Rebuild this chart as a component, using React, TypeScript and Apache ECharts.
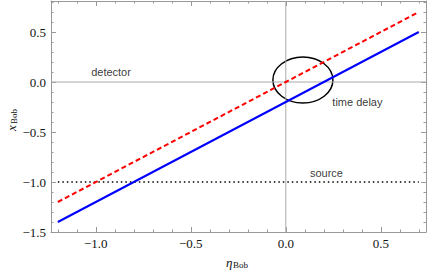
import React, { useEffect, useRef } from "react";
import * as echarts from "echarts";

const etaEnds = [-1.2, 0.7];
const blueValues = [-1.4, 0.5];
const redValues = [-1.2, 0.7];
const sourceValues = [-1.0, -1.0];
const ellipse = [0.09, 0.02, 0.158, 0.23]; // center eta, center x, semi-axis eta, semi-axis x
const xMajorTicks = [-1.0, -0.5, 0.0, 0.5];
const xMinorTicks = [-1.2, -1.1, -1.0, -0.9, -0.8, -0.7, -0.6, -0.5, -0.4, -0.3, -0.2, -0.1, 0.0, 0.1, 0.2, 0.3, 0.4, 0.5, 0.6, 0.7];
const yMajorTicks = [-1.5, -1.0, -0.5, 0.0, 0.5];
const yMinorTicks = [-1.5, -1.4, -1.3, -1.2, -1.1, -1.0, -0.9, -0.8, -0.7, -0.6, -0.5, -0.4, -0.3, -0.2, -0.1, 0.0, 0.1, 0.2, 0.3, 0.4, 0.5, 0.6, 0.7, 0.8];
const annotations = [
  { name: "detector", eta: -0.92, x: 0.1 },
  { name: "time delay", eta: 0.377, x: -0.2 },
  { name: "source", eta: 0.214, x: -0.907 },
];
const X_MIN = -1.236;
const X_MAX = 0.738;
const Y_MIN = -1.5;
const Y_MAX = 0.81;

const frameColor = "#999999";
const serif = "serif";
const sans = "Liberation Sans, Arial, sans-serif";

const fmt = (v: number) => (v < 0 ? "\u2212" : "") + Math.abs(v).toFixed(1);

function makeAxis(kind: "x" | "y", position: string, major: boolean, labels: boolean) {
  const isX = kind === "x";
  return {
    type: "value",
    position,
    min: isX ? X_MIN : Y_MIN,
    max: isX ? X_MAX : Y_MAX,
    axisLine: { show: major, onZero: false, lineStyle: { color: frameColor, width: 1 } },
    axisTick: {
      show: true,
      inside: true,
      length: major ? 5 : 2.5,
      lineStyle: { color: frameColor, width: 1 },
      customValues: major ? (isX ? xMajorTicks : yMajorTicks) : isX ? xMinorTicks : yMinorTicks,
    },
    axisLabel: {
      show: labels,
      customValues: isX ? xMajorTicks : yMajorTicks,
      formatter: fmt,
      fontFamily: serif,
      fontSize: 13,
      color: "#111",
      margin: 5,
    },
    splitLine: { show: false },
  };
}

export default function App() {
  const ref = useRef<HTMLDivElement>(null);
  useEffect(() => {
    if (!ref.current) return;
    const chart = echarts.init(ref.current, null, { renderer: "svg" });
    const mkLine = (ys: number[]) => etaEnds.map((e, i) => [e, ys[i]]);
    chart.setOption({
      animation: false,
      backgroundColor: "#ffffff",
      textStyle: { fontFamily: serif },
      grid: { left: 51, top: 1, right: 1, bottom: 40, containLabel: false },
      xAxis: [
        makeAxis("x", "bottom", true, true),
        makeAxis("x", "bottom", false, false),
        makeAxis("x", "top", true, false),
        makeAxis("x", "top", false, false),
      ],
      yAxis: [
        makeAxis("y", "left", true, true),
        makeAxis("y", "left", false, false),
        makeAxis("y", "right", true, false),
        makeAxis("y", "right", false, false),
      ],
      series: [
        {
          type: "line",
          data: [[0, Y_MIN], [0, Y_MAX]],
          symbol: "none",
          lineStyle: { color: "#aaaaaa", width: 1 },
          silent: true,
        },
        {
          type: "line",
          data: [[X_MIN, 0], [X_MAX, 0]],
          symbol: "none",
          lineStyle: { color: "#aaaaaa", width: 1 },
          silent: true,
        },
        {
          type: "line",
          data: mkLine(sourceValues),
          symbol: "none",
          lineStyle: { color: "#000000", width: 1.5, type: [1.5, 3] },
        },
        {
          type: "line",
          data: mkLine(blueValues),
          symbol: "none",
          lineStyle: { color: "#0000ff", width: 2 },
        },
        {
          type: "line",
          data: mkLine(redValues),
          symbol: "none",
          lineStyle: { color: "#ff0000", width: 2, type: [5, 3] },
        },
        {
          type: "custom",
          data: [ellipse],
          renderItem: (params: any, api: any) => {
            const c = api.coord([api.value(0), api.value(1)]);
            const s = api.size([api.value(2), api.value(3)]);
            return {
              type: "ellipse",
              shape: { cx: c[0], cy: c[1], rx: s[0], ry: s[1] },
              style: { fill: "none", stroke: "#000000", lineWidth: 1.5 },
            };
          },
        },
        {
          type: "scatter",
          data: annotations.map((a) => ({ name: a.name, value: [a.eta, a.x] })),
          symbolSize: 1,
          itemStyle: { color: "rgba(0,0,0,0)" },
          label: {
            show: true,
            position: "inside",
            formatter: (p: any) => p.name,
            fontFamily: sans,
            fontSize: 11,
            color: "#000",
          },
        },
      ],
      graphic: [
        {
          type: "text",
          x: 226,
          y: 262,
          style: { text: "\u03b7", fontFamily: serif, fontStyle: "italic", fontSize: 13, fill: "#111", verticalAlign: "middle" },
        },
        {
          type: "text",
          x: 233,
          y: 265,
          style: { text: "Bob", fontFamily: serif, fontSize: 9, fill: "#111", verticalAlign: "middle" },
        },
        {
          type: "group",
          x: 11,
          y: 131,
          rotation: Math.PI / 2,
          children: [
            {
              type: "text",
              x: 0,
              y: 0,
              style: { text: "x", fontFamily: serif, fontStyle: "italic", fontSize: 13, fill: "#111", verticalAlign: "middle" },
            },
            {
              type: "text",
              x: 7,
              y: 3,
              style: { text: "Bob", fontFamily: serif, fontSize: 9, fill: "#111", verticalAlign: "middle" },
            },
          ],
        },
      ],
    });
    return () => chart.dispose();
  }, []);
  return (
    <div
      ref={ref}
      style={{ position: "absolute", left: 0, top: 0, width: 427, height: 272 }}
    />
  );
}
